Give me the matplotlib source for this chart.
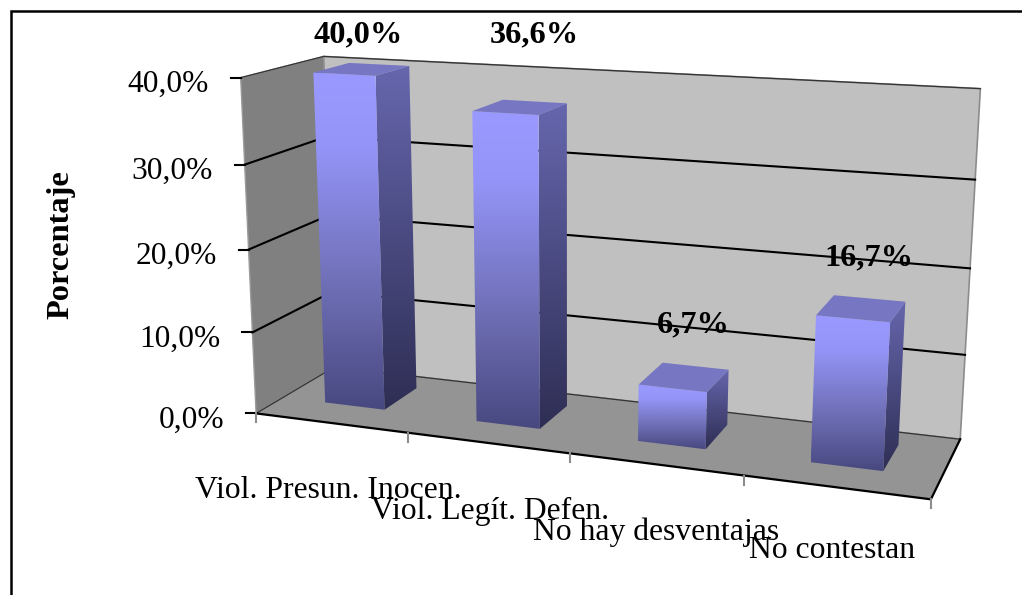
import numpy as np
import matplotlib
matplotlib.use('Agg')
import matplotlib.pyplot as plt
from matplotlib.colors import LinearSegmentedColormap
from matplotlib.patches import Polygon

categories = ['Viol. Presun. Inocen.', 'Viol. Legít. Defen.', 'No hay desventajas', 'No contestan']
values = [40.0, 36.6, 6.7, 16.7]
value_labels = ['40,0%', '36,6%', '6,7%', '16,7%']
y_ticks = [0, 10, 20, 30, 40]
y_tick_labels = ['0,0%', '10,0%', '20,0%', '30,0%', '40,0%']
y_title = 'Porcentaje'

Y_MAX = 40.0
BAR_HALF = 0.050
BAR_SHIFT = -0.003
BAR_FRONT = 0.33
BAR_BACK = 0.78

# (across, height, depth) of the plot box -> where it lands on the canvas
BOX_WORLD = [(0, 0, 0), (0, .25, 0), (0, .5, 0), (0, .75, 0), (0, 1, 0),
             (.25, 0, 0), (.5, 0, 0), (.75, 0, 0), (1, 0, 0),
             (0, 0, 1), (0, 1, 1),
             (1, 0, 1), (1, .25, 1), (1, .5, 1), (1, .75, 1), (1, 1, 1)]
BOX_CANVAS = [(258, 412), (254, 332), (249, 249), (243, 165), (238, 78),
              (409, 432), (570, 454), (744, 477), (931, 500),
              (331, 369), (327, 56),
              (961, 438), (965, 354), (970, 268), (974, 180), (981, 89)]

LABEL_POS = [(358, 35), (534, 35), (693, 325), (869, 258)]
CATEGORY_POS = [(328, 490), (490, 511), (656, 532), (832, 551)]

FRONT_CMAP = LinearSegmentedColormap.from_list('front', [(0, '#9999ff'), (.22, '#9494f8'), (.6, '#7272bb'),
                                                         (1, '#484880')])
SIDE_CMAP = LinearSegmentedColormap.from_list('side', [(0, '#6666ae'), (1, '#2e2e54')])
TOP_COLOR = '#7676c2'

plt.rcParams['font.family'] = ['Liberation Serif', 'DejaVu Serif']


def fit_projection():
    rows = []
    rhs = []
    for (u, v, w), (x, y) in zip(BOX_WORLD, BOX_CANVAS):
        rows.append([u, v, w, 1, 0, 0, 0, 0, -x * u, -x * v, -x * w])
        rhs.append(x)
        rows.append([0, 0, 0, 0, u, v, w, 1, -y * u, -y * v, -y * w])
        rhs.append(y)
    p = np.linalg.lstsq(np.array(rows, float), np.array(rhs, float), rcond=None)[0]
    return np.append(p, 1).reshape(3, 4)


P = fit_projection()


def project(u, value, w):
    x, y, s = P @ np.array([u, value / Y_MAX, w, 1.0])
    return x / s, y / s


def gradient_face(ax, pts, cmap):
    poly = Polygon(pts, closed=True, facecolor='none', edgecolor='none')
    ax.add_patch(poly)
    xs = [p[0] for p in pts]
    ys = [p[1] for p in pts]
    grad = np.linspace(0, 1, 256).reshape(-1, 1)
    im = ax.imshow(grad, cmap=cmap, aspect='auto', zorder=3, interpolation='bilinear',
                   extent=(min(xs), max(xs), max(ys), min(ys)))
    im.set_clip_path(poly)


def draw_box(ax):
    ax.fill(*zip(project(0, 0, 0), project(0, Y_MAX, 0), project(0, Y_MAX, 1), project(0, 0, 1)),
            facecolor='#808080', edgecolor='#9a9a9a', lw=1, zorder=1)
    ax.fill(*zip(project(0, 0, 1), project(0, Y_MAX, 1), project(1, Y_MAX, 1), project(1, 0, 1)),
            facecolor='#c0c0c0', edgecolor='#8c8c8c', lw=1.2, zorder=1)
    ax.fill(*zip(project(0, 0, 0), project(1, 0, 0), project(1, 0, 1), project(0, 0, 1)),
            facecolor='#949494', edgecolor='none', zorder=1)

    # gridlines run along the side wall and then the back wall
    for tick, label in zip(y_ticks, y_tick_labels):
        a = project(0, tick, 0)
        b = project(0, tick, 1)
        c = project(1, tick, 1)
        lw = 1.5 if 0 < tick < Y_MAX else 0.9
        col = 'black' if 0 < tick < Y_MAX else '#333333'
        ax.plot(*zip(a, b, c), color=col, lw=lw, zorder=2, solid_joinstyle='miter')
        ax.plot([a[0] - 10, a[0]], [a[1], a[1]], color='black', lw=1.5, zorder=2)
        ax.text(a[0] - 32, a[1] + 7, label, ha='right', va='center', fontsize=22.6)

    ax.plot(*zip(project(0, 0, 0), project(1, 0, 0), project(1, 0, 1)), color='black', lw=1.6, zorder=2)
    for i in range(len(categories) + 1):
        x, y = project(i / len(categories), 0, 0)
        ax.plot([x, x], [y, y + 9], color='#8c8c8c', lw=1.5, zorder=2)


def draw_bar(ax, i, value):
    center = (i + .5) / len(categories) + BAR_SHIFT
    left = center - BAR_HALF
    right = center + BAR_HALF
    front = [project(left, value, BAR_FRONT), project(right, value, BAR_FRONT),
             project(right, 0, BAR_FRONT), project(left, 0, BAR_FRONT)]
    side = [project(right, value, BAR_FRONT), project(right, value, BAR_BACK),
            project(right, 0, BAR_BACK), project(right, 0, BAR_FRONT)]
    top = [project(left, value, BAR_FRONT), project(left, value, BAR_BACK),
           project(right, value, BAR_BACK), project(right, value, BAR_FRONT)]
    gradient_face(ax, side, SIDE_CMAP)
    gradient_face(ax, front, FRONT_CMAP)
    ax.add_patch(Polygon(top, closed=True, facecolor=TOP_COLOR, edgecolor='none', zorder=3))


def start():
    fig = plt.figure(figsize=(1022 / 100, 595 / 100), dpi=100)
    ax = fig.add_axes([0, 0, 1, 1])

    draw_box(ax)
    for i, value in enumerate(values):
        draw_bar(ax, i, value)

    for label, (x, y) in zip(value_labels, LABEL_POS):
        ax.text(x, y, label, ha='center', va='center', fontsize=23.3, fontweight='bold', zorder=5)
    for label, (x, y) in zip(categories, CATEGORY_POS):
        ax.text(x, y, label, ha='center', va='center', fontsize=22.8, zorder=5)
    ax.text(61, 245, y_title, rotation=90, ha='center', va='center', fontsize=23.3, fontweight='bold')

    # chart frame, only the top and left sides are on the canvas
    ax.plot([10.5, 10.5, 1022], [595, 10.5, 10.5], color='black', lw=1.8, zorder=6, solid_joinstyle='miter')

    ax.set_xlim(0, 1022)
    ax.set_ylim(595, 0)
    ax.axis('off')
    fig.savefig('out.png', dpi=100)


if __name__ == '__main__':
    start()
